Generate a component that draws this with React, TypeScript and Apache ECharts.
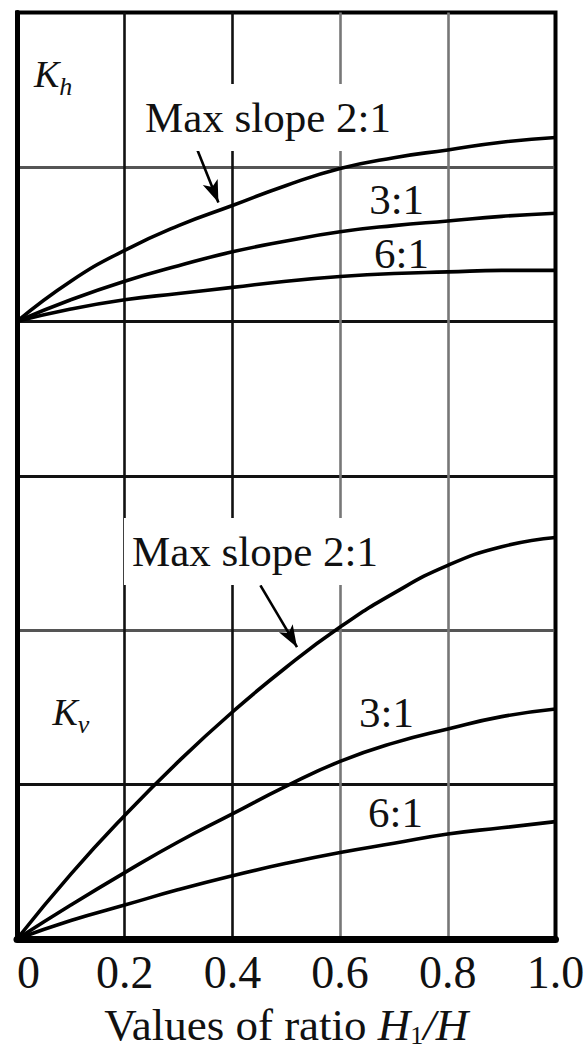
import React, { useEffect, useRef } from "react";
import * as echarts from "echarts";

// Ratio H1/H (x axis)
const xValues = [0, 0.1, 0.2, 0.3, 0.4, 0.5, 0.6, 0.7, 0.8, 0.9, 1.0];
// Upper family (Kh), read in chart grid units (its origin sits on grid line 4)
const khSlope21 = [4.0, 4.26, 4.46, 4.62, 4.75, 4.88, 4.99, 5.06, 5.11, 5.16, 5.19];
const khSlope31 = [4.0, 4.14, 4.26, 4.36, 4.45, 4.52, 4.58, 4.62, 4.65, 4.68, 4.7];
const khSlope61 = [4.0, 4.08, 4.14, 4.18, 4.22, 4.26, 4.29, 4.31, 4.32, 4.33, 4.33];
// Lower family (Kv), read in chart grid units
const kvSlope21 = [0, 0.42, 0.8, 1.15, 1.47, 1.76, 2.02, 2.24, 2.42, 2.54, 2.6];
const kvSlope31 = [0, 0.22, 0.43, 0.63, 0.81, 0.99, 1.15, 1.27, 1.36, 1.44, 1.49];
const kvSlope61 = [0, 0.12, 0.22, 0.32, 0.41, 0.49, 0.56, 0.62, 0.68, 0.72, 0.76];
// Tick labels
const xTickLabels = ["0", "0.2", "0.4", "0.6", "0.8", "1.0"];

const FONT = "'Liberation Serif', 'Times New Roman', serif";
const INK = "#111";

const pairs = (ys: number[]) => xValues.map((x, i) => [x, ys[i]]);

export default function App() {
  const ref = useRef<HTMLDivElement>(null);

  useEffect(() => {
    if (!ref.current) return;
    const chart = echarts.init(ref.current, undefined, { renderer: "svg" });

    const curve = (name: string, ys: number[], extra: any = {}) => ({
      name,
      type: "line",
      data: pairs(ys),
      smooth: true,
      symbol: "none",
      lineStyle: { color: "#000", width: 3.6 },
      z: 3,
      ...extra,
    });

    const richText = {
      t: { fontFamily: FONT, fontSize: 43, color: INK },
      k: { fontFamily: FONT, fontSize: 38, fontStyle: "italic", color: INK },
      ks: { fontFamily: FONT, fontSize: 26, fontStyle: "italic", color: INK, padding: [24, 0, 0, 0] },
    };

    const mp = (coord: number[], formatter: string, boxed = false) => ({
      coord,
      value: 0,
      label: {
        show: true,
        position: "inside",
        formatter,
        backgroundColor: boxed ? "#fff" : "transparent",
        padding: boxed ? [12, 8] : 0,
      },
    });

    const arrowLine = (from: number[], to: number[]) => [
      { coord: from, symbol: "none" },
      { coord: to, symbol: "arrow" },
    ];

    chart.setOption({
      animation: false,
      backgroundColor: "#fff",
      grid: {
        left: 17,
        right: 29.5,
        top: 12.5,
        bottom: 115,
        containLabel: false,
        outerBoundsMode: "none",
        show: true,
        borderColor: "#000",
        borderWidth: 4,
        backgroundColor: "transparent",
      },
      xAxis: {
        type: "value",
        min: 0,
        max: 1,
        interval: 0.2,
        axisLine: { show: true, onZero: false, lineStyle: { color: "#000", width: 7 } },
        axisTick: { show: false },
        axisLabel: {
          margin: 10,
          fontFamily: FONT,
          fontSize: 46,
          color: INK,
          alignMinLabel: "left",
          formatter: (v: number) => xTickLabels[Math.round(v / 0.2)] ?? "",
        },
        splitLine: {
          show: true,
          lineStyle: { color: ["#000", "#111", "#111", "#777", "#777", "#000"], width: 2.6 },
        },
        name: "{a|Values of ratio }{i|H}{s|1}{i|/H}",
        nameLocation: "middle",
        nameGap: 63,
        nameTextStyle: {
          rich: {
            a: { fontFamily: FONT, fontSize: 45, color: INK },
            i: { fontFamily: FONT, fontSize: 45, fontStyle: "italic", color: INK },
            s: { fontFamily: FONT, fontSize: 26, color: INK, padding: [20, 0, 0, 0] },
          },
        },
      },
      yAxis: {
        type: "value",
        min: 0,
        max: 6,
        interval: 1,
        axisLine: { show: true, onZero: false, lineStyle: { color: "#000", width: 5 } },
        axisTick: { show: false },
        axisLabel: { show: false },
        splitLine: {
          show: true,
          lineStyle: { color: ["#000", "#111", "#555", "#111", "#111", "#555", "#000"], width: 3 },
        },
      },
      series: [
        curve("Kh 2:1", khSlope21, {
          markLine: {
            silent: true,
            symbolSize: [12, 22],
            label: { show: false },
            lineStyle: { color: "#000", width: 2.6, type: "solid" },
            data: [arrowLine([0.335, 5.11], [0.374, 4.77]), arrowLine([0.452, 2.29], [0.52, 1.89])],
          },
          markPoint: {
            symbol: "rect",
            symbolSize: 1,
            itemStyle: { color: "rgba(0,0,0,0)" },
            silent: true,
            z: 5,
            label: { rich: richText, color: INK },
            data: [
              mp([0.067, 5.6], "{k|K}{ks|h}"),
              mp([0.466, 5.32], "{t|Max slope 2:1}", true),
              mp([0.705, 4.79], "{t|3:1}"),
              mp([0.714, 4.44], "{t|6:1}"),
              mp([0.442, 2.51], "{t|Max slope 2:1}", true),
              mp([0.1, 1.47], "{k|K}{ks|v}"),
              mp([0.686, 1.47], "{t|3:1}"),
              mp([0.703, 0.82], "{t|6:1}"),
            ],
          },
        }),
        curve("Kh 3:1", khSlope31),
        curve("Kh 6:1", khSlope61),
        curve("Kv 2:1", kvSlope21),
        curve("Kv 3:1", kvSlope31),
        curve("Kv 6:1", kvSlope61),
      ],
    });

    return () => chart.dispose();
  }, []);

  return (
    <div
      ref={ref}
      style={{ position: "absolute", left: 0, top: 0, width: 585, height: 1054, background: "#fff" }}
    />
  );
}
